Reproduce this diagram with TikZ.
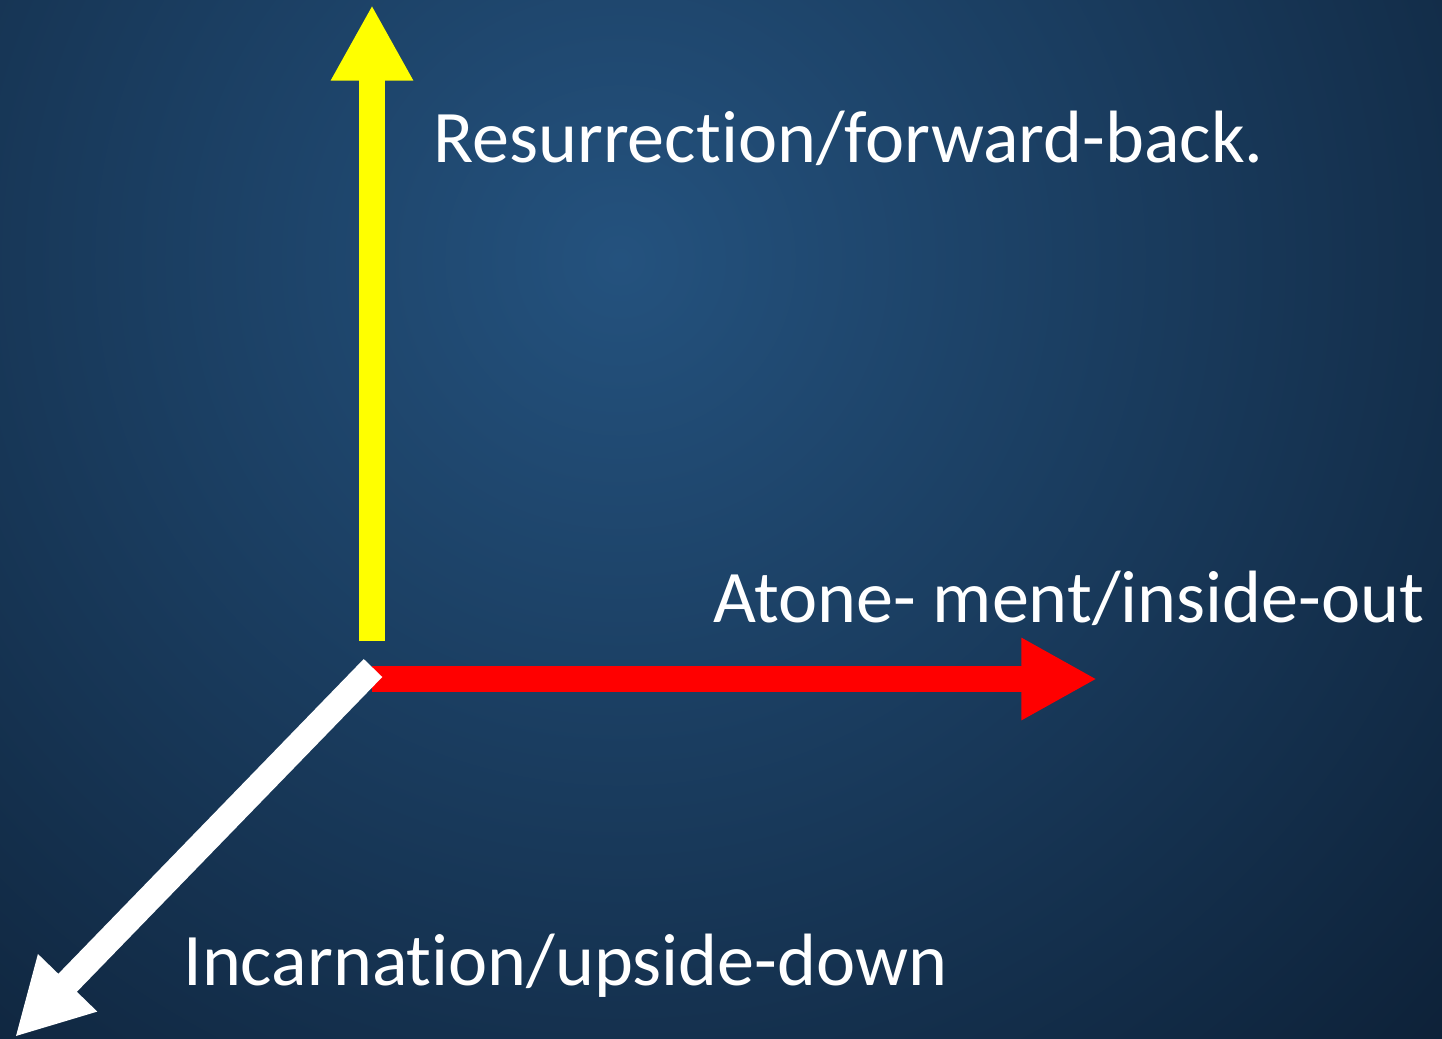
\documentclass[tikz,border=0pt]{standalone}
\usepackage{fontspec}
\setmainfont{Carlito}[Ligatures={NoCommon,NoRequired}]
\usetikzlibrary{arrows.meta}
\tikzset{>={Triangle[width=43.7pt,length=43pt]}}
\definecolor{bgblue}{RGB}{36,82,126}
\definecolor{bgdark}{RGB}{8,22,40}
\definecolor{axisyellow}{RGB}{255,255,0}
\definecolor{axisred}{RGB}{255,0,0}

\begin{document}
\begin{tikzpicture}[x=0.02cm,y=-0.02cm]
		% background
		\useasboundingbox (0,0) rectangle (1442,1038);
		\begin{scope}
			\clip (0,0) rectangle (1442,1038);
			\shade[inner color=bgblue,outer color=bgdark] (620,260) circle (1400);
		\end{scope}
		% axis ends
		\coordinate (up0)   at (372,641);
		\coordinate (up1)   at (372,5);
		\coordinate (right0) at (372,679);
		\coordinate (right1) at (1097,679);
		\coordinate (down0) at (373,668);
		\coordinate (down1) at (15,1037);
		% the three axes
		\draw[axisyellow,line width=14.7pt,->] (up0) -- (up1);
		\draw[axisred,line width=14.7pt,->]    (right0) -- (right1);
		\draw[white,line width=14.7pt,->]      (down0) -- (down1);
		% labels
		\node[white,anchor=base west,inner sep=0pt,font=\fontsize{42.2}{50}\selectfont] (fwd) at (433,162) {Resurrection/forward-back.};
		\node[white,anchor=base west,inner sep=0pt,font=\fontsize{42.2}{50}\selectfont] (inout) at (713,622) {Atone- ment/inside-out};
		\node[white,anchor=base west,inner sep=0pt,font=\fontsize{42.2}{50}\selectfont] (updown) at (183,985) {Incarnation/upside-down};
	\end{tikzpicture}
\end{document}
